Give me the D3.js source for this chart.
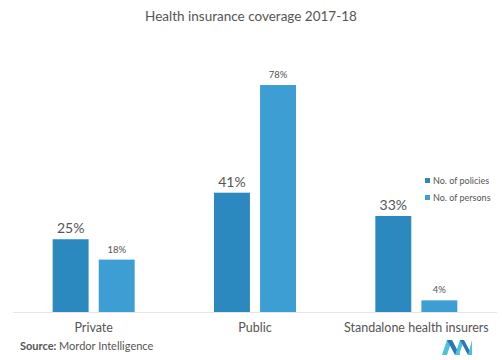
<!DOCTYPE html>
<html>
<head>
<meta charset="utf-8">
<script src="https://cdnjs.cloudflare.com/ajax/libs/d3/7.8.5/d3.min.js"></script>
<style>
  body { margin: 0; background: #fff; }
  text { font-family: Lato, "Open Sans", sans-serif; }
</style>
</head>
<body>
<div id="chart"></div>
<script>
const categories = ['Private', 'Public', 'Standalone health insurers'];
const seriesNames = ['No. of policies', 'No. of persons'];
const policies = [25, 41, 33];
const persons = [18, 78, 4];
const colors = ['#2b89c0', '#3d9ed3'];

const width = 502, height = 360;
const baseline = 312;

const svg = d3.select('#chart').append('svg')
  .attr('width', width)
  .attr('height', height);

svg.append('text')
  .attr('x', 251).attr('y', 21)
  .attr('text-anchor', 'middle')
  .attr('font-size', '13.5px')
  .attr('fill', '#555')
  .text('Health insurance coverage 2017-18');

const x0 = d3.scaleBand()
  .domain(categories)
  .range([13, 497]);

const x1 = d3.scaleBand()
  .domain(seriesNames)
  .range([x0.bandwidth() / 2 - 41, x0.bandwidth() / 2 + 41])
  .paddingInner(0.22);

const y = d3.scaleLinear()
  .domain([0, 100])
  .range([baseline, baseline - 291]);

const rows = categories.map((c, i) => ({ cat: c, vals: [policies[i], persons[i]] }));

const groups = svg.selectAll('.grp')
  .data(rows)
  .enter().append('g')
  .attr('class', 'grp')
  .attr('transform', d => 'translate(' + x0(d.cat) + ',0)');

groups.selectAll('rect')
  .data(d => d.vals.map((v, j) => ({ name: seriesNames[j], v: v, j: j })))
  .enter().append('rect')
  .attr('x', d => x1(d.name))
  .attr('y', d => y(d.v))
  .attr('width', x1.bandwidth())
  .attr('height', d => baseline - y(d.v))
  .attr('fill', d => colors[d.j]);

groups.selectAll('.lbl')
  .data(d => d.vals.map((v, j) => ({ name: seriesNames[j], v: v, j: j })))
  .enter().append('text')
  .attr('class', 'lbl')
  .attr('x', d => x1(d.name) + x1.bandwidth() / 2)
  .attr('y', d => y(d.v) - (d.j === 0 ? 6 : 7))
  .attr('text-anchor', 'middle')
  .attr('font-size', d => d.j === 0 ? '14px' : '9.5px')
  .attr('fill', '#555')
  .text(d => d.v + '%');

// axis line
svg.append('line')
  .attr('x1', 13).attr('x2', 497)
  .attr('y1', baseline + 0.5).attr('y2', baseline + 0.5)
  .attr('stroke', '#e6e6e6');

const xAxis = svg.append('g')
  .attr('transform', 'translate(0,' + baseline + ')')
  .call(d3.axisBottom(x0).tickSize(0).tickPadding(11));
xAxis.select('.domain').remove();
xAxis.selectAll('text')
  .attr('font-family', 'Lato, sans-serif')
  .attr('font-size', '12.5px')
  .attr('fill', '#555');

// legend
const legend = svg.append('g').attr('transform', 'translate(425,176)');
seriesNames.forEach((n, i) => {
  legend.append('rect')
    .attr('x', 0).attr('y', i * 17 + 2)
    .attr('width', 5).attr('height', 5)
    .attr('fill', colors[i]);
  legend.append('text')
    .attr('x', 8).attr('y', i * 17 + 8)
    .attr('font-size', '9px')
    .attr('fill', '#555')
    .text(n);
});

// source
const src = svg.append('text')
  .attr('x', 20).attr('y', 350)
  .attr('font-size', '11px')
  .attr('fill', '#555');
src.append('tspan').attr('font-weight', 'bold').text('Source: ');
src.append('tspan').text('Mordor Intelligence');

// logo
const logo = svg.append('g').attr('transform', 'translate(442,340)');
logo.append('polygon').attr('points', '0,15 5,0 10,0 5,15').attr('fill', '#4cc3d7');
logo.append('polygon').attr('points', '5,0 10,0 18,15 13,15').attr('fill', '#2f74b5');
logo.append('polygon').attr('points', '13,15 18,0 22,0 17,15').attr('fill', '#4cc3d7');
logo.append('polygon').attr('points', '18,0 22,0 30,15 26,15').attr('fill', '#2f74b5');
logo.append('polygon').attr('points', '26,15 30,0 30,15').attr('fill', '#4cc3d7');
</script>
</body>
</html>
